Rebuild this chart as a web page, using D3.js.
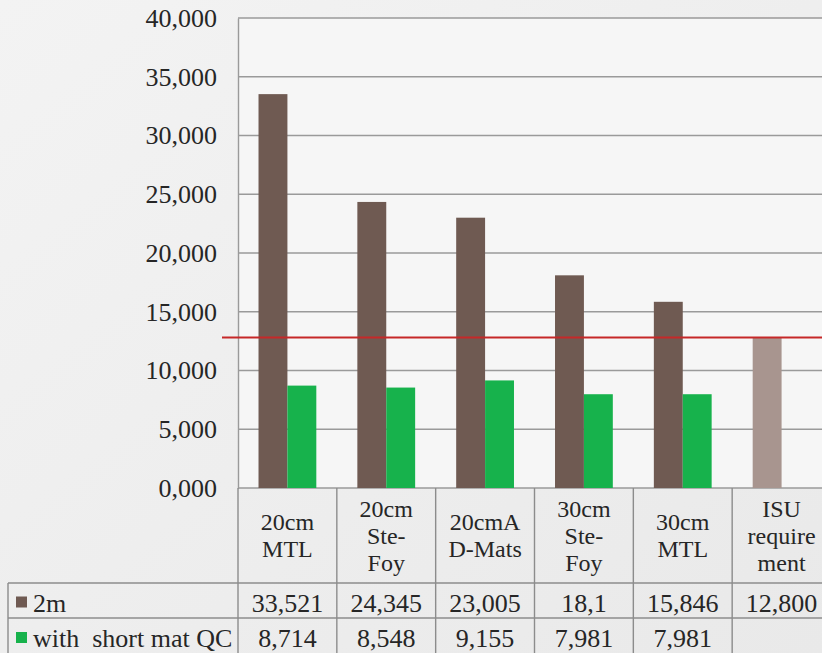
<!DOCTYPE html>
<html>
<head>
<meta charset="utf-8">
<script src="https://cdn.jsdelivr.net/npm/d3@7/dist/d3.min.js"></script>
<style>
  html, body { margin: 0; padding: 0; background: #efefef; }
  svg { display: block; }
  svg text { font-family: "Liberation Serif", Tinos, "Times New Roman", Times, serif !important; fill: #262626; }
</style>
</head>
<body>
<svg id="chart" width="822" height="653"></svg>
<script>
// Categories (label lines as shown in the data table header)
const categories = ["20cm MTL", "20cm Ste-Foy", "20cmA D-Mats", "30cm Ste-Foy", "30cm MTL", "ISU requirement"];
const categoryLines = [["20cm", "MTL"], ["20cm", "Ste-", "Foy"], ["20cmA", "D-Mats"], ["30cm", "Ste-", "Foy"], ["30cm", "MTL"], ["ISU", "require", "ment"]];

// Series values
const seriesNames = ["2m", "with  short mat QC"];
const twoM = [33.521, 24.345, 23.005, 18.1, 15.846, 12.8];
const twoMDecimals = [3, 3, 3, 1, 3, 3];
const shortMatQC = [8.714, 8.548, 9.155, 7.981, 7.981, null];
const shortMatDecimals = [3, 3, 3, 3, 3, 3];

// Requirement threshold drawn as a horizontal line
const requirement = 12.8;

// Y axis ticks
const yTicks = [0, 5, 10, 15, 20, 25, 30, 35, 40];

const colors = { twoM: "#6f5a52", short: "#17b24c", isu: "#a8958f", grid: "#9a9a9a", red: "#c62828" };
const FONT = "'Liberation Serif', Tinos, 'Times New Roman', Times, serif";

const locale = d3.formatLocale({ decimal: ",", thousands: ".", grouping: [3], currency: ["", ""] });
const fmtTick = locale.format(".3f");
const fmtVal = (v, d) => locale.format("." + d + "f")(v);

const svg = d3.select("#chart").attr("font-family", FONT);

// Background haze
const defs = svg.append("defs");
const bg = defs.append("linearGradient").attr("id", "bg").attr("x1", 0).attr("y1", 0).attr("x2", 1).attr("y2", 1);
bg.append("stop").attr("offset", "0%").attr("stop-color", "#f3f3f3");
bg.append("stop").attr("offset", "100%").attr("stop-color", "#e9e9e9");
svg.append("rect").attr("width", 822).attr("height", 653).attr("fill", "url(#bg)");

const plot = { left: 238, right: 831, top: 18, bottom: 488 };

const x = d3.scaleBand().domain(categories).range([plot.left, plot.right]).padding(0);
const x1 = d3.scaleBand().domain(["twoM", "short"]).range([0, x.bandwidth()]).paddingInner(0).paddingOuter(0.71);
const y = d3.scaleLinear().domain([0, 40]).range([plot.bottom, plot.top]);

// Plot area
svg.append("rect")
  .attr("x", plot.left).attr("y", plot.top)
  .attr("width", plot.right - plot.left).attr("height", plot.bottom - plot.top)
  .attr("fill", "#f6f6f6");

// Gridlines
svg.append("g").selectAll("line").data(yTicks).join("line")
  .attr("x1", plot.left).attr("x2", plot.right)
  .attr("y1", d => y(d)).attr("y2", d => y(d))
  .attr("stroke", colors.grid).attr("stroke-width", 1.4);

// Y axis
const yAxis = svg.append("g").attr("transform", `translate(${plot.left},0)`)
  .call(d3.axisLeft(y).tickValues(yTicks).tickFormat(fmtTick).tickSize(0).tickPadding(21));
yAxis.attr("font-family", FONT);
yAxis.select(".domain").attr("stroke", colors.grid).attr("stroke-width", 1.4);
yAxis.selectAll("text").attr("font-size", 26).attr("fill", "#262626");

// Bars
const barData = [];
categories.forEach((c, i) => {
  barData.push({ cat: c, key: "twoM", value: twoM[i], color: i === categories.length - 1 ? colors.isu : colors.twoM });
  if (shortMatQC[i] != null) barData.push({ cat: c, key: "short", value: shortMatQC[i], color: colors.short });
});
svg.append("g").selectAll("rect").data(barData).join("rect")
  .attr("x", d => x(d.cat) + x1(d.key))
  .attr("width", x1.bandwidth())
  .attr("y", d => y(d.value))
  .attr("height", d => y(0) - y(d.value))
  .attr("fill", d => d.color);

// Requirement line
svg.append("line")
  .attr("x1", 222).attr("x2", 822)
  .attr("y1", y(requirement)).attr("y2", y(requirement))
  .attr("stroke", colors.red).attr("stroke-width", 2);

// Data table
const table = svg.append("g");
const rowTops = [plot.bottom, 583, 618, 658];
const tableLeft = 8;
const lineColor = "#8c8c8c";

// horizontal rules
[rowTops[1], rowTops[2]].forEach(yy => {
  table.append("line").attr("x1", tableLeft).attr("x2", plot.right).attr("y1", yy).attr("y2", yy)
    .attr("stroke", lineColor).attr("stroke-width", 1.4);
});
// vertical rules
const colEdges = categories.map(c => x(c)).concat([plot.right]);
table.selectAll("line.v").data(colEdges).join("line").attr("class", "v")
  .attr("x1", d => d).attr("x2", d => d)
  .attr("y1", plot.bottom).attr("y2", rowTops[3])
  .attr("stroke", lineColor).attr("stroke-width", 1.4);
table.append("line").attr("x1", tableLeft).attr("x2", tableLeft).attr("y1", rowTops[1]).attr("y2", rowTops[3])
  .attr("stroke", lineColor).attr("stroke-width", 1.4);

// header labels
const headerMid = (rowTops[0] + rowTops[1]) / 2;
const lineGap = 27;
categories.forEach((c, i) => {
  const lines = categoryLines[i];
  const cx = x(c) + x.bandwidth() / 2;
  const t = table.append("text").attr("text-anchor", "middle").attr("font-size", 24);
  lines.forEach((ln, k) => {
    t.append("tspan").attr("x", cx)
      .attr("y", headerMid + (k - (lines.length - 1) / 2) * lineGap)
      .attr("dy", "0.35em").text(ln);
  });
});

// value rows
const rows = [
  { name: seriesNames[0], values: twoM, decimals: twoMDecimals, color: colors.twoM },
  { name: seriesNames[1], values: shortMatQC, decimals: shortMatDecimals, color: colors.short }
];
rows.forEach((r, ri) => {
  const mid = ri === 0 ? (rowTops[1] + rowTops[2]) / 2 + 2 : 638;
  table.append("rect").attr("x", 16).attr("y", mid - 6).attr("width", 11).attr("height", 11).attr("fill", r.color);
  table.append("text").attr("x", 33).attr("y", mid).attr("dy", "0.35em")
    .attr("font-size", 26).style("white-space", "pre").text(r.name);
  r.values.forEach((v, i) => {
    if (v == null) return;
    table.append("text").attr("x", x(categories[i]) + x.bandwidth() / 2).attr("y", mid)
      .attr("dy", "0.35em").attr("text-anchor", "middle").attr("font-size", 26)
      .text(fmtVal(v, r.decimals[i]));
  });
});
</script>
</body>
</html>
